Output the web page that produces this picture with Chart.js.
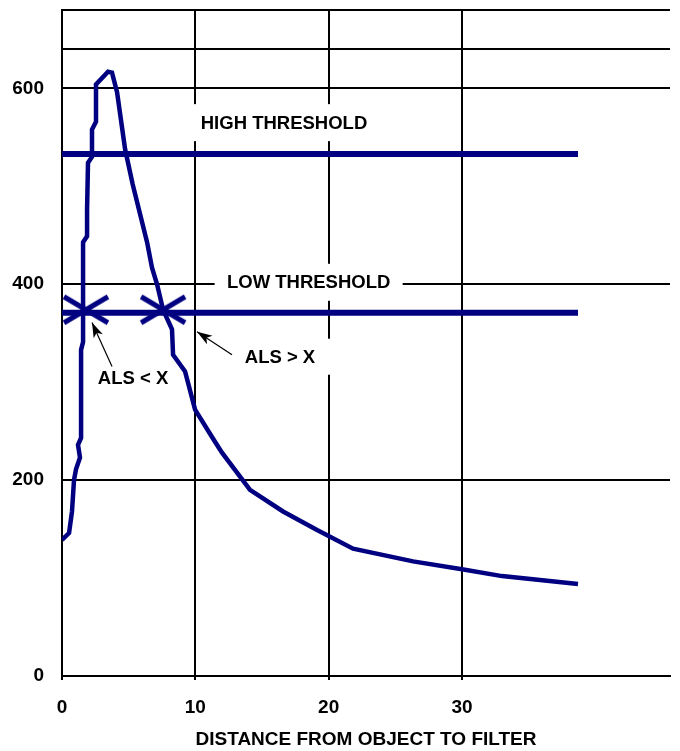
<!DOCTYPE html>
<html>
<head>
<meta charset="utf-8">
<script src="https://cdn.jsdelivr.net/npm/chart.js@4/dist/chart.umd.min.js"></script>
<style>
  body { margin: 0; background: #fff; }
  #wrap { width: 680px; height: 751px; }
</style>
</head>
<body>
<div id="wrap"><canvas id="chart" width="680" height="751"></canvas></div>
<script>
// curve: distance vs signal
const distance = [0, 0.53, 0.75, 0.9, 1.05, 1.35, 1.2, 1.43, 1.43, 1.58, 1.58, 1.88, 1.88, 1.95, 2.25, 2.25, 2.55, 2.55,
  3.45, 3.75, 4.13, 4.73, 5.3, 6.38, 6.75, 7.13, 7.58, 8.25, 8.33, 9.23, 9.98, 11.25, 12.0, 14.1, 16.58, 19.13,
  21.83, 26.33, 30.0, 33.0, 38.7];
const signal = [139, 146, 168, 200, 211, 223, 236, 243, 333, 341, 443, 449, 476, 524, 530, 558, 566, 604,
  617, 616, 596, 538, 502, 443, 417, 400, 374, 354, 328, 311, 272, 244, 228, 190, 168, 149,
  130, 117, 109, 102, 94];

const highThreshold = 533;
const lowThreshold = 371;
const thresholdEnd = 38.7;

// where the curve crosses the low threshold
const crossX = [1.8, 7.58];
const crossY = [374, 374];

const xTicks = [0, 10, 20, 30, 45.6];
const yTicks = [0, 200, 400, 600, 640, 680];

const navy = '#000080';
const font = '"Liberation Sans", Arial, sans-serif';
Chart.defaults.font.family = font;
Chart.defaults.font.weight = 'bold';
Chart.defaults.font.size = 19;
Chart.defaults.color = '#000';

// flattened X marker
function makeStar() {
  const c = document.createElement('canvas');
  c.width = 50; c.height = 32;
  const g = c.getContext('2d');
  g.strokeStyle = navy;
  g.lineWidth = 5;
  g.beginPath();
  g.moveTo(3, 3); g.lineTo(47, 29);
  g.moveTo(47, 3); g.lineTo(3, 29);
  g.stroke();
  return c;
}

// text labels with white boxes, and arrows (positions in data units)
const notes = [
  { text: 'HIGH THRESHOLD', x: 16.65, y: 565, w: 186, h: 37 },
  { text: 'LOW THRESHOLD', x: 18.5, y: 402, w: 188, h: 37 },
  { text: 'ALS > X', x: 16.35, y: 326, w: 100, h: 36 },
  { text: 'ALS < X', x: 5.33, y: 304, w: 80, h: 30 }
];
const arrows = [
  { x1: 3.75, y1: 316, x2: 2.25, y2: 361 },
  { x1: 12.75, y1: 328, x2: 10.13, y2: 351.6 }
];

const notesPlugin = {
  id: 'notes',
  afterDraw(chart) {
    const ctx = chart.ctx;
    const xs = chart.scales.x, ys = chart.scales.y;
    ctx.save();
    notes.forEach(n => {
      const px = xs.getPixelForValue(n.x), py = ys.getPixelForValue(n.y);
      ctx.fillStyle = '#fff';
      ctx.fillRect(px - n.w / 2, py - n.h / 2, n.w, n.h);
      ctx.fillStyle = '#000';
      ctx.font = 'bold 18.5px ' + font;
      ctx.textAlign = 'center';
      ctx.textBaseline = 'middle';
      ctx.fillText(n.text, px, py + 1);
    });
    arrows.forEach(a => {
      const x1 = xs.getPixelForValue(a.x1), y1 = ys.getPixelForValue(a.y1);
      const x2 = xs.getPixelForValue(a.x2), y2 = ys.getPixelForValue(a.y2);
      const ang = Math.atan2(y2 - y1, x2 - x1);
      ctx.strokeStyle = '#000';
      ctx.lineWidth = 1.2;
      ctx.beginPath();
      ctx.moveTo(x1, y1); ctx.lineTo(x2, y2);
      ctx.stroke();
      const len = 16, half = 0.32;
      ctx.fillStyle = '#000';
      ctx.beginPath();
      ctx.moveTo(x2, y2);
      ctx.lineTo(x2 - len * Math.cos(ang - half), y2 - len * Math.sin(ang - half));
      ctx.lineTo(x2 - len * 0.7 * Math.cos(ang), y2 - len * 0.7 * Math.sin(ang));
      ctx.lineTo(x2 - len * Math.cos(ang + half), y2 - len * Math.sin(ang + half));
      ctx.closePath();
      ctx.fill();
    });
    ctx.restore();
  }
};

new Chart(document.getElementById('chart'), {
  type: 'scatter',
  data: {
    datasets: [
      {
        data: distance.map((d, i) => ({ x: d, y: signal[i] })),
        showLine: true, borderColor: navy, borderWidth: 4.5, pointRadius: 0
      },
      {
        data: [{ x: 0, y: highThreshold }, { x: thresholdEnd, y: highThreshold }],
        showLine: true, borderColor: navy, borderWidth: 6, pointRadius: 0
      },
      {
        data: [{ x: 0, y: lowThreshold }, { x: thresholdEnd, y: lowThreshold }],
        showLine: true, borderColor: navy, borderWidth: 6, pointRadius: 0
      },
      {
        data: crossX.map((d, i) => ({ x: d, y: crossY[i] })),
        pointStyle: makeStar(), showLine: false
      }
    ]
  },
  options: {
    responsive: false,
    animation: false,
    layout: { padding: { top: 10, right: 10, left: 0, bottom: 0 } },
    plugins: { legend: { display: false }, tooltip: { enabled: false } },
    scales: {
      x: {
        type: 'linear', min: 0, max: 45.6,
        afterBuildTicks: s => { s.ticks = xTicks.map(v => ({ value: v })); },
        afterFit: s => { s.height = 75; s.paddingLeft = 0; s.paddingRight = 0; },
        grid: {
          color: c => (c.tick && c.tick.value > 40 ? 'rgba(0,0,0,0)' : '#000'),
          lineWidth: 2, tickLength: 4
        },
        border: { color: '#000', width: 2 },
        ticks: { padding: 16, maxRotation: 0, callback: v => (v > 40 ? '' : v) },
        title: { display: true, text: 'DISTANCE FROM OBJECT TO FILTER', padding: { top: 0, bottom: 0 } }
      },
      y: {
        min: 0, max: 680,
        afterBuildTicks: s => { s.ticks = yTicks.map(v => ({ value: v })); },
        afterFit: s => { s.width = 62; s.paddingTop = 0; s.paddingBottom = 0; },
        grid: { color: '#000', lineWidth: 2, drawTicks: false },
        border: { color: '#000', width: 2 },
        ticks: { padding: 18, callback: v => (v % 200 === 0 ? v : '') }
      }
    }
  },
  plugins: [notesPlugin]
});
</script>
</body>
</html>
